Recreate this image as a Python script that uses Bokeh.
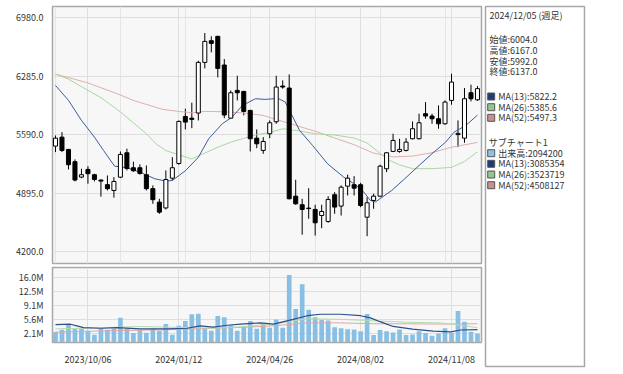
from bokeh.plotting import figure
from bokeh.models import Range1d, FixedTicker, Grid, PrintfTickFormatter
from bokeh.layouts import row, column
from bokeh.embed import file_html
from bokeh.resources import INLINE
from bokeh.core.properties import value

# ---------------- data ----------------
last_date = "2024/12/05 (週足)"
tick_index = [5, 19, 33, 47, 61]
tick_labels = ["2023/10/06", "2024/01/12", "2024/04/26", "2024/08/02", "2024/11/08"]

opens = [5453, 5560, 5414, 5268, 5085, 5176, 5113, 5050, 4995, 4926,
         5084, 5374, 5196, 5196, 5113, 4947, 4787, 4718, 5072, 5247,
         5806, 5786, 5847, 6449, 6707, 6759, 6418, 5786, 6116, 6104,
         5878, 5548, 5402, 5600, 5743, 6168, 6144, 4858, 4756, 4716,
         4700, 4628, 4557, 4875, 4740, 4977, 4994, 4994, 4608, 4807,
         4858, 5184, 5390, 5390, 5402, 5541, 5541, 5839, 5811, 5779,
         5719, 5997, 5590, 5548, 6088, 6004]
highs = [5580, 5620, 5420, 5295, 5184, 5215, 5125, 5055, 5104, 5084,
         5390, 5423, 5268, 5236, 5223, 4986, 4827, 5164, 5322, 5759,
         5898, 5970, 6469, 6799, 6759, 6765, 6489, 6116, 6290, 6110,
         5885, 5652, 5560, 5759, 6290, 6235, 6306, 5053, 4827, 4953,
         4756, 4756, 4858, 4906, 4986, 5113, 5096, 5017, 4846, 4887,
         5232, 5382, 5600, 5541, 5548, 5747, 5839, 5977, 5839, 5937,
         5997, 6314, 5759, 6144, 6184, 6167]
lows = [5382, 5382, 5176, 5033, 5072, 5006, 5033, 4852, 4926, 4840,
        5072, 5164, 5148, 5113, 4926, 4767, 4648, 4700, 5045, 5232,
        5652, 5667, 5759, 6378, 6568, 6271, 5786, 5779, 5997, 5819,
        5390, 5429, 5362, 5548, 5719, 6136, 4820, 4756, 4399, 4589,
        4390, 4477, 4541, 4648, 4628, 4866, 4866, 4727, 4382, 4708,
        4846, 5144, 5382, 5374, 5390, 5533, 5533, 5779, 5719, 5660,
        5708, 5946, 5441, 5493, 5985, 5992]
closes = [5548, 5402, 5232, 5050, 5113, 5125, 5057, 5037, 4947, 5033,
          5354, 5188, 5160, 5129, 4947, 4816, 4668, 5056, 5196, 5747,
          5739, 5771, 6449, 6699, 6675, 6378, 5823, 6088, 6088, 5866,
          5541, 5481, 5509, 5731, 6156, 6156, 4827, 4767, 4700, 4710,
          4541, 4676, 4819, 4728, 4965, 5072, 4953, 4747, 4779, 4858,
          5215, 5374, 5521, 5414, 5501, 5660, 5731, 5811, 5779, 5719,
          5977, 6215, 5605, 6017, 6017, 6137]
volumes = [2.46, 3.04, 4.29, 3.26, 3.26, 2.82, 1.80, 3.41, 3.04, 3.26,
           5.97, 3.26, 2.24, 3.04, 2.31, 3.26, 2.82, 4.43, 1.80, 4.00,
           5.17, 6.85, 7.00, 3.33, 2.82, 6.41, 6.12, 4.14, 2.82, 3.85,
           5.17, 3.26, 4.58, 3.55, 5.53, 3.55, 16.5, 8.17, 14.2, 7.95,
           6.12, 5.46, 5.31, 3.63, 3.41, 3.19, 3.12, 2.68, 6.93, 1.72,
           2.97, 2.68, 2.38, 3.12, 1.72, 1.87, 2.68, 2.24, 1.58, 2.09,
           3.41, 2.31, 7.66, 5.02, 2.53, 2.0942]  # millions

# price moving averages (candle index, value)
ma13_x = [0, 2, 4, 6, 7.4, 9.1, 11, 13, 15.3, 17, 18, 20, 22, 23.6, 25.7, 27.2, 28.8, 30.8, 32.3, 34.3, 35.4, 37.6, 39.6, 41.9, 44.4, 46, 47.5, 48.5, 49.3, 51.8, 53.8, 56, 58, 60.1, 61.4, 63.2, 65]
ma13_y = [6175, 5997, 5760, 5560, 5402, 5215, 5196, 5144, 5065, 5037, 5045, 5160, 5320, 5541, 5720, 5798, 5937, 6017, 6009, 6020, 5977, 5640, 5461, 5244, 5084, 5005, 4906, 4807, 4790, 4926, 5065, 5223, 5363, 5501, 5620, 5699, 5822.2]
ma26_x = [0, 2, 4, 7, 10, 12, 14, 15.5, 17, 19, 21, 23, 25, 27, 29, 31, 33, 35, 37, 40, 43, 46, 48, 49.5, 51, 53, 55, 58, 61, 63, 65]
ma26_y = [6310, 6250, 6160, 6030, 5860, 5730, 5600, 5480, 5400, 5350, 5300, 5370, 5440, 5500, 5545, 5590, 5615, 5660, 5640, 5600, 5585, 5550, 5490, 5400, 5300, 5230, 5185, 5185, 5200, 5270, 5385.6]
ma52_x = [0, 5, 9.5, 12, 16.5, 19, 21, 23, 26, 29, 32, 34, 37, 40, 43, 46, 49, 52, 55, 58, 61, 65]
ma52_y = [6310, 6205, 6077, 5997, 5890, 5866, 5850, 5866, 5862, 5848, 5818, 5770, 5700, 5630, 5550, 5470, 5370, 5325, 5335, 5375, 5440, 5497.3]

# volume moving averages (millions)
vma13_x = [0, 2.3, 3.3, 4.3, 7, 9.5, 13, 17.2, 20.3, 22.3, 24.3, 26.5, 28.5, 31.6, 33.6, 36.6, 38.8, 40.8, 43.9, 47, 48.5, 50, 52, 55, 58.2, 60.9, 62.4, 65]
vma13_y = [4.3, 4.4, 4.0, 3.55, 3.4, 3.55, 3.26, 3.26, 3.4, 4.0, 3.7, 4.14, 4.43, 4.73, 4.43, 5.6, 6.49, 6.85, 6.85, 6.49, 5.97, 5.02, 3.85, 3.19, 2.68, 2.53, 2.97, 3.085354]
vma26_x = [0, 7, 13, 20.3, 24.3, 28.5, 31.6, 33.6, 38.8, 43.9, 49, 54.2, 59.3, 62.4, 65]
vma26_y = [3.26, 3.5, 3.85, 3.55, 3.41, 3.77, 4.2, 4.43, 5.75, 5.6, 5.24, 4.87, 4.73, 4.14, 3.523719]
vma52_x = [0, 9.5, 17.2, 24, 28.5, 33.6, 38.8, 43.9, 49, 54.2, 59.3, 65]
vma52_y = [2.46, 2.82, 3.04, 3.41, 3.6, 4.0, 4.73, 4.73, 4.51, 4.5, 4.43, 4.508127]

price_ticks = [4200, 4895, 5590, 6285, 6980]
vol_ticks = [2.1, 5.575, 9.05, 12.525, 16.0]
vol_tick_labels = ["2.1M", "5.6M", "9.1M", "12.5M", "16.0M"]

# ---------------- styles ----------------
FONT = "Noto Sans CJK JP"
TXT = "#333333"
GRID = "#dedede"
FRAME_BG = "#f7f7f7"
OUTLINE = "#a8a8a8"
C13, C26, C52 = "#3d5c9c", "#a9d6a2", "#dcb0ae"
VOL_C = "#88bfe4"

n = len(opens)
idx = list(range(n))
XR = (-0.46, 65.62)

def style_common(p):
    p.background_fill_color = FRAME_BG
    p.border_fill_color = "white"
    p.outline_line_color = OUTLINE
    p.outline_line_width = 1.5
    p.toolbar.logo = None

def style_axis(ax):
    ax.axis_line_color = None
    ax.major_tick_line_color = None
    ax.minor_tick_line_color = None
    ax.major_label_text_font = FONT
    ax.major_label_text_font_size = "9px"
    ax.major_label_text_color = TXT
    ax.major_label_standoff = 3

# ---------------- main price chart ----------------
p1 = figure(width=483, height=265, x_range=Range1d(*XR), y_range=Range1d(4057, 7114),
            output_backend="svg", toolbar_location=None, x_axis_location=None,
            min_border_left=52, min_border_right=2, min_border_top=6, min_border_bottom=2)
style_common(p1)
style_axis(p1.yaxis[0])
p1.yaxis[0].ticker = FixedTicker(ticks=price_ticks)
p1.yaxis[0].formatter = PrintfTickFormatter(format="%.1f")
p1.ygrid.grid_line_color = GRID
p1.add_layout(Grid(dimension=0, ticker=FixedTicker(ticks=tick_index), grid_line_color=GRID))

tops = [max(o, c) for o, c in zip(opens, closes)]
bots = [min(o, c) for o, c in zip(opens, closes)]
fills = ["white" if c >= o else "black" for o, c in zip(opens, closes)]
p1.segment(x0=idx, x1=idx, y0=lows, y1=highs, line_color="black", line_width=1)
p1.line(ma52_x, ma52_y, line_color=C52, line_width=1)
p1.line(ma26_x, ma26_y, line_color=C26, line_width=1)
p1.line(ma13_x, ma13_y, line_color=C13, line_width=1)
p1.vbar(x=idx, top=tops, bottom=bots, width=0.62, fill_color=fills, line_color="black", line_width=1)

# ---------------- volume chart ----------------
p2 = figure(width=483, height=103, x_range=p1.x_range, y_range=Range1d(-0.1, 18.35),
            output_backend="svg", toolbar_location=None,
            min_border_left=52, min_border_right=2, min_border_top=2, min_border_bottom=17)
style_common(p2)
style_axis(p2.yaxis[0])
style_axis(p2.xaxis[0])
p2.yaxis[0].ticker = FixedTicker(ticks=vol_ticks)
p2.yaxis[0].major_label_overrides = dict(zip(vol_ticks, vol_tick_labels))
p2.xaxis[0].ticker = FixedTicker(ticks=tick_index)
p2.xaxis[0].major_label_overrides = dict(zip(tick_index, tick_labels))
p2.xaxis[0].major_label_standoff = 4
p2.ygrid.grid_line_color = GRID
p2.xgrid.grid_line_color = GRID
p2.vbar(x=idx, top=volumes, bottom=0, width=0.72, fill_color=VOL_C, line_color=None)
p2.line(vma52_x, vma52_y, line_color="#e0a6a6", line_width=1)
p2.line(vma26_x, vma26_y, line_color="#b3dcab", line_width=1)
p2.line(vma13_x, vma13_y, line_color="#2f4d8c", line_width=1.2)

# ---------------- info panel ----------------
p3 = figure(width=103, height=368, x_range=Range1d(0, 99), y_range=Range1d(360, 0),
            output_backend="svg", toolbar_location=None, x_axis_location=None, y_axis_location=None,
            min_border_left=2, min_border_right=2, min_border_top=6, min_border_bottom=2)
p3.background_fill_color = "white"
p3.border_fill_color = "white"
p3.outline_line_color = OUTLINE
p3.outline_line_width = 1.5
p3.xgrid.visible = False
p3.ygrid.visible = False

o, h, l, c = opens[-1], highs[-1], lows[-1], closes[-1]
info_text = [last_date, f"始値:{o:.1f}", f"高値:{h:.1f}", f"安値:{l:.1f}", f"終値:{c:.1f}", "サブチャート1"]
info_x = [4, 4, 4, 4, 4, 3.3]
info_y = [9, 33.3, 44, 54.6, 65.3, 136]
p3.text(x=info_x, y=info_y, text=info_text, text_baseline="middle", text_align="left",
        text_font=value(FONT), text_font_size="9px", text_color=TXT)

leg_text = [f"MA(13):{ma13_y[-1]:.1f}", f"MA(26):{ma26_y[-1]:.1f}", f"MA(52):{ma52_y[-1]:.1f}",
            f"出来高:{round(volumes[-1]*1e6)}", f"MA(13):{round(vma13_y[-1]*1e6)}",
            f"MA(26):{round(vma26_y[-1]*1e6)}", f"MA(52):{round(vma52_y[-1]*1e6)}"]
leg_y = [90, 100.7, 111.3, 146.7, 157.3, 168, 178.7]
leg_col = ["#1c3a7c", "#8ec88c", "#c98f8f", "#8cc2e6", "#1c3a7c", "#8ec88c", "#c98f8f"]
p3.scatter(x=[5.7] * 7, y=leg_y, marker="square", size=7, fill_color=leg_col, line_color="#555555", line_width=1)
p3.text(x=[12.7] * 7, y=leg_y, text=leg_text, text_baseline="middle", text_align="left",
        text_font=value(FONT), text_font_size="9px", text_color=TXT)

root = row(column(p1, p2), p3)

open("out.html", "w").write(file_html(root, INLINE))
